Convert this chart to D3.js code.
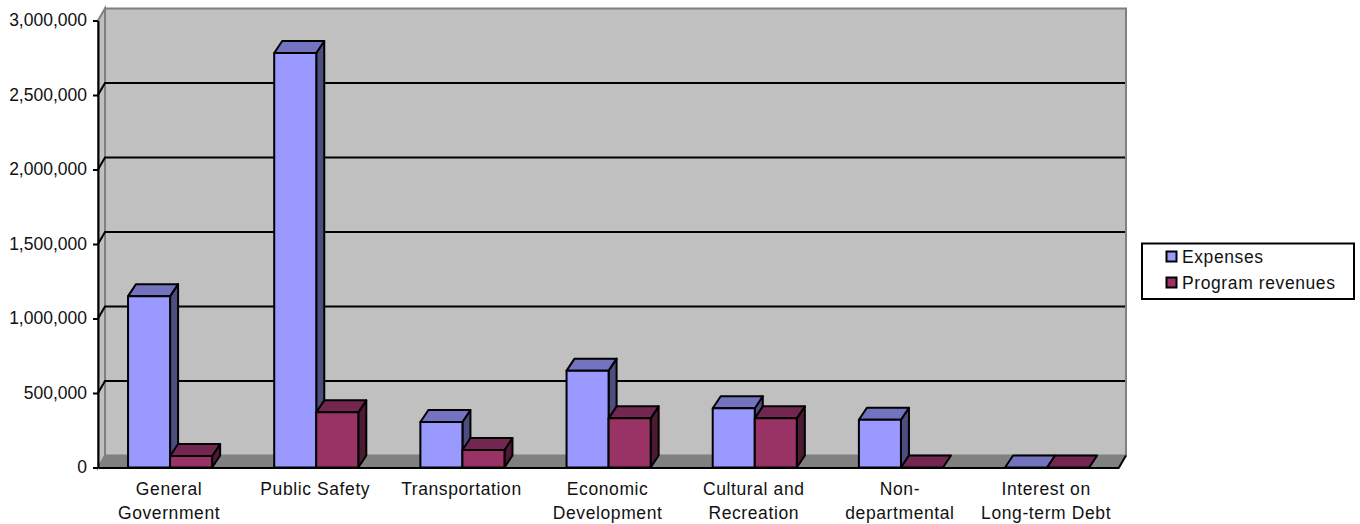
<!DOCTYPE html>
<html>
<head>
<meta charset="utf-8">
<script src="https://cdn.jsdelivr.net/npm/d3@7"></script>
<style>
  html, body { margin: 0; padding: 0; background: #fff; }
  svg { display: block; }
  text { font-family: "Liberation Sans", Arial, sans-serif; font-size: 17.5px; fill: #111; }
</style>
</head>
<body>
<div id="chart"></div>
<script>
var categories = ["General Government", "Public Safety", "Transportation", "Economic Development",
                  "Cultural and Recreation", "Non-departmental", "Interest on Long-term Debt"];
var categoryLines = [["General", "Government"], ["Public Safety"], ["Transportation"], ["Economic", "Development"],
                     ["Cultural and", "Recreation"], ["Non-", "departmental"], ["Interest on", "Long-term Debt"]];
var seriesNames = ["Expenses", "Program revenues"];
var expenses = [1150000, 2782000, 305000, 650000, 398000, 320000, 0];
var programRevenues = [77000, 370000, 117000, 330000, 330000, 0, 0];
var yTicks = [0, 500000, 1000000, 1500000, 2000000, 2500000, 3000000];

var frontColors = ["#9999ff", "#993366"];
var topColors = ["#7373bf", "#732650"];
var sideColors = ["#4d4d80", "#4d1a33"];

var wallDepthX = 7, barDepthX = 8, depthY = -12;

var svg = d3.select("#chart").append("svg")
  .attr("width", 1360)
  .attr("height", 524);

var y = d3.scaleLinear().domain([0, 3000000]).range([467.5, 20.5]);

var x0 = d3.scaleBand().domain(categories).range([97, 1120.2]).paddingInner(62 / 146).paddingOuter(31 / 146);
var x1 = d3.scaleBand().domain(seriesNames).range([0, x0.bandwidth()]);

function poly(points) {
  return "M" + points.map(function(p) { return p.join(","); }).join("L") + "Z";
}

var plotLeft = 98, plotRight = 1119, plotBottom = y(0), plotTop = y(3000000);

// walls and floor
svg.append("path")
  .attr("d", poly([[plotLeft + wallDepthX, plotTop + depthY], [plotRight + wallDepthX, plotTop + depthY], [plotRight + wallDepthX, plotBottom + depthY], [plotLeft + wallDepthX, plotBottom + depthY]]))
  .attr("fill", "#c0c0c0").attr("stroke", "#808080").attr("stroke-width", 2);
svg.append("path")
  .attr("d", poly([[plotLeft, plotTop], [plotLeft + wallDepthX, plotTop + depthY], [plotLeft + wallDepthX, plotBottom + depthY], [plotLeft, plotBottom]]))
  .attr("fill", "#c0c0c0").attr("stroke", "#808080").attr("stroke-width", 2);
svg.append("path")
  .attr("d", poly([[plotLeft, plotBottom], [plotLeft + wallDepthX, plotBottom + depthY], [plotRight + wallDepthX, plotBottom + depthY], [plotRight, plotBottom]]))
  .attr("fill", "#808080").attr("stroke", "#808080").attr("stroke-width", 1);

// gridlines on the back wall, with the slanted bit on the left wall
svg.selectAll(".grid").data(yTicks.slice(1, -1)).enter().append("path")
  .attr("class", "grid")
  .attr("fill", "none").attr("stroke", "#000").attr("stroke-width", 2)
  .attr("d", function(d) {
    return "M" + plotLeft + "," + y(d) + "L" + (plotLeft + wallDepthX) + "," + (y(d) + depthY) + "L" + (plotRight + wallDepthX - 1) + "," + (y(d) + depthY);
  });

// axes
var yAxis = svg.append("g")
  .attr("transform", "translate(" + plotLeft + ",0)")
  .call(d3.axisLeft(y).tickValues(yTicks).tickFormat(d3.format(",")).tickSize(5).tickSizeOuter(0).tickPadding(6));
yAxis.selectAll("path, line").attr("stroke", "#000").attr("stroke-width", 2);
yAxis.selectAll("text").attr("font-family", null).attr("font-size", null).attr("dy", "0.3em");

var xAxis = svg.append("g")
  .attr("transform", "translate(0," + plotBottom + ")")
  .call(d3.axisBottom(d3.scaleLinear().domain([0, 1]).range([plotLeft, plotRight])).tickValues([]).tickSize(0));
xAxis.select("path").attr("stroke", "#000").attr("stroke-width", 2);

svg.append("path")
  .attr("d", "M" + plotRight + "," + plotBottom + "L" + (plotRight + wallDepthX) + "," + (plotBottom + depthY))
  .attr("stroke", "#000").attr("stroke-width", 2);

// bars, left to right
var barData = [];
categories.forEach(function(c, i) {
  barData.push({ category: c, series: 0, value: expenses[i] });
  barData.push({ category: c, series: 1, value: programRevenues[i] });
});

var bars = svg.selectAll(".bar").data(barData).enter().append("g")
  .attr("class", "bar")
  .attr("stroke", "#000").attr("stroke-width", 2).attr("stroke-linejoin", "round");

function barX(d) { return x0(d.category) + x1(seriesNames[d.series]); }

bars.filter(function(d) { return d.value > 0; }).append("path")
  .attr("fill", function(d) { return sideColors[d.series]; })
  .attr("d", function(d) {
    var r = barX(d) + x1.bandwidth(), t = y(d.value);
    return poly([[r, t], [r + barDepthX, t + depthY], [r + barDepthX, plotBottom + depthY], [r, plotBottom]]);
  });
bars.append("path")
  .attr("fill", function(d) { return topColors[d.series]; })
  .attr("d", function(d) {
    var l = barX(d), r = l + x1.bandwidth(), t = y(d.value);
    return poly([[l, t], [l + barDepthX, t + depthY], [r + barDepthX, t + depthY], [r, t]]);
  });
bars.filter(function(d) { return d.value > 0; }).append("rect")
  .attr("fill", function(d) { return frontColors[d.series]; })
  .attr("x", barX)
  .attr("y", function(d) { return y(d.value); })
  .attr("width", x1.bandwidth())
  .attr("height", function(d) { return plotBottom - y(d.value); });

// category labels
var labels = svg.selectAll(".cat").data(categories).enter().append("text")
  .attr("class", "cat")
  .attr("text-anchor", "middle")
  .style("letter-spacing", "0.6px");
labels.selectAll("tspan").data(function(d, i) { return categoryLines[i].map(function(t, j) { return { text: t, line: j, cat: d }; }); })
  .enter().append("tspan")
  .attr("x", function(d) { return x0(d.cat) + x0.bandwidth() / 2 - 1; })
  .attr("y", function(d) { return 494.5 + d.line * 24.5; })
  .text(function(d) { return d.text; });

// legend
var legend = svg.append("g");
legend.append("rect")
  .attr("x", 1142).attr("y", 243.5).attr("width", 212).attr("height", 55.5)
  .attr("fill", "#fff").attr("stroke", "#000").attr("stroke-width", 2);
var legendItems = legend.selectAll(".item").data(seriesNames).enter().append("g")
  .attr("class", "item")
  .attr("transform", function(d, i) { return "translate(0," + (i * 26) + ")"; });
legendItems.append("rect")
  .attr("x", 1166.5).attr("y", 251.5).attr("width", 10).attr("height", 10)
  .attr("fill", function(d, i) { return frontColors[i]; })
  .attr("stroke", "#000").attr("stroke-width", 2);
legendItems.append("text")
  .attr("x", 1182).attr("y", 263)
  .style("letter-spacing", "0.6px")
  .text(function(d) { return d; });
</script>
</body>
</html>
